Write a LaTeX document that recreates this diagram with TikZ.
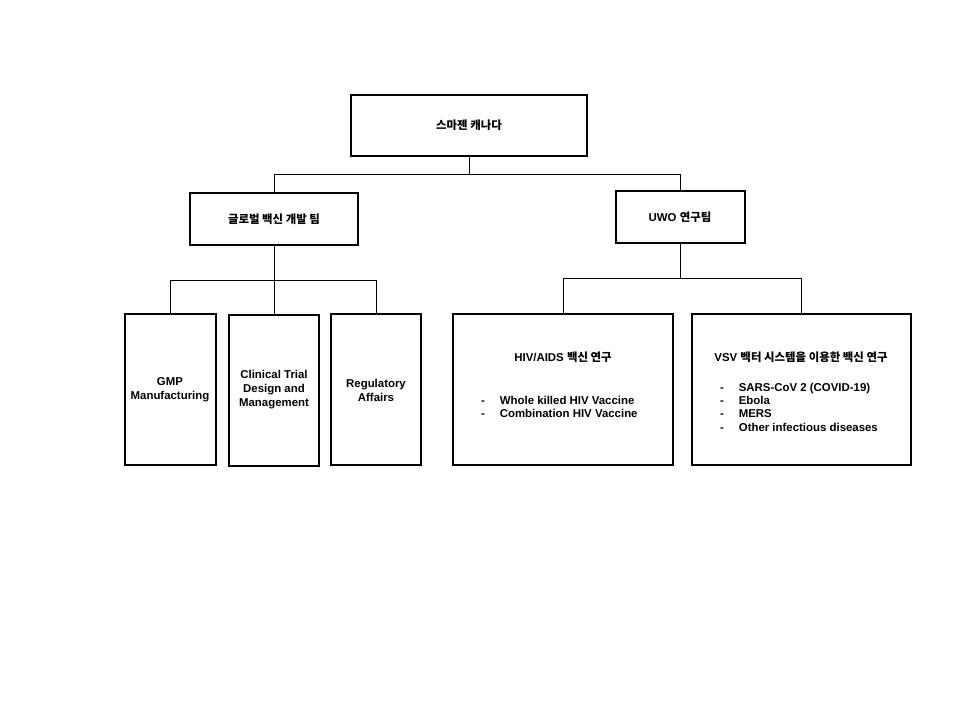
\documentclass[tikz,border=0pt]{standalone}
\usepackage{fontspec}
\setmainfont{Liberation Sans}
\newfontfamily\kr{Noto Sans CJK KR}
\usetikzlibrary{positioning}
\tikzset{box/.style={draw,thick,fill=white,inner sep=0pt},
         txt/.style={font=\fontsize{6.5}{8}\selectfont\bfseries,align=center},
         lst/.style={font=\fontsize{6.5}{7.5}\selectfont\bfseries,align=left},
         link/.style={thin}}
\begin{document}
\begin{tikzpicture}[x=0.02cm,y=-0.02cm]
\useasboundingbox (0,0) rectangle (960,720);
% boxes
\draw[box] (351,95) rectangle (587,156);
\node[txt] (top) at (469,125) {\kr 스마젠 캐나다};
\draw[box] (190,193) rectangle (358,245);
\node[txt] (glob) at (274,219) {\kr 글로벌 백신 개발 팀};
\draw[box] (616,191) rectangle (745,243);
\node[txt] (uwo) at (680,217) {UWO {\kr 연구팀}};
\draw[box] (125,314) rectangle (216,465);
\node[txt] (gmp) at (170,390) {GMP\\Manufacturing};
\draw[box] (229,315) rectangle (319,466);
\node[txt] (clin) at (274,390) {Clinical Trial\\Design and\\Management};
\draw[box] (331,314) rectangle (421,465);
\node[txt] (reg) at (376,390) {Regulatory\\Affairs};
\draw[box] (453,314) rectangle (673,465);
\node[txt] (hiv) at (563,357) {HIV/AIDS {\kr 백신 연구}};
\node[lst,anchor=north west] (hivl) at (475,390) {-\hspace{1.3em}Whole killed HIV Vaccine\\-\hspace{1.3em}Combination HIV Vaccine};
\draw[box] (692,314) rectangle (911,465);
\node[txt] (vsv) at (801,357) {VSV {\kr 벡터 시스템을 이용한 백신 연구}};
\node[lst,anchor=north west] (vsvl) at (714,377) {-\hspace{1.3em}SARS-CoV 2 (COVID-19)\\-\hspace{1.3em}Ebola\\-\hspace{1.3em}MERS\\-\hspace{1.3em}Other infectious diseases};
% connectors
\coordinate (t) at (469,156);
\coordinate (g) at (274,245);
\coordinate (u) at (680,243);
\draw[link] (t) -- (469,174) -- (274,174) -- (274,193);
\draw[link] (469,174) -- (680,174) -- (680,191);
\draw[link] (g) -- (274,280) -- (170,280) -- (170,314);
\draw[link] (274,280) -- (274,315);
\draw[link] (274,280) -- (376,280) -- (376,314);
\draw[link] (u) -- (680,278) -- (563,278) -- (563,314);
\draw[link] (680,278) -- (801,278) -- (801,314);
\end{tikzpicture}
\end{document}
